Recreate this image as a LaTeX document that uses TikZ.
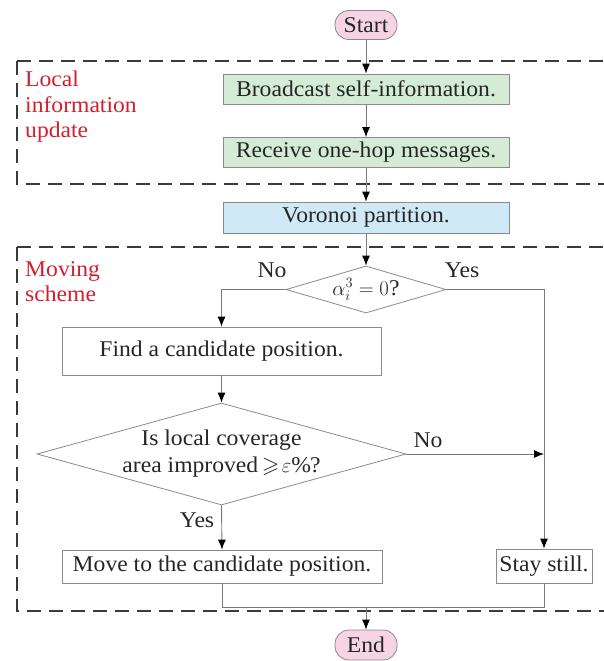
\documentclass[tikz,border=0pt]{standalone}
\usepackage{amssymb}
\usepackage{fontspec}
\setmainfont[FakeStretch=1.05]{Liberation Serif}
\usetikzlibrary{shapes.geometric,arrows.meta}
\definecolor{pinkfill}{HTML}{F6D4E4}
\definecolor{greenfill}{HTML}{D4EBD6}
\definecolor{bluefill}{HTML}{CFE9F7}
\definecolor{edgegray}{HTML}{8A8A8A}
\definecolor{linegray}{HTML}{7A7A7A}
\definecolor{labelred}{HTML}{D0202E}
\definecolor{dashgray}{HTML}{3A3A3A}
\tikzset{
  txt/.style={font=\fontsize{22.5}{27}\selectfont, text=black!85},
  terminal/.style={txt, draw=edgegray, fill=pinkfill, rounded corners=14pt, minimum width=62pt, minimum height=29pt, inner sep=0pt, line width=0.8pt},
  procbox/.style={txt, draw=edgegray, minimum height=32pt, inner sep=0pt, line width=0.8pt},
  greenbox/.style={procbox, fill=greenfill, minimum width=286pt, minimum height=30pt},
  bluebox/.style={procbox, fill=bluefill, minimum width=286pt, minimum height=31pt},
  decision/.style={txt, draw=edgegray, diamond, inner sep=-8pt, line width=0.8pt, align=center},
  conn/.style={draw=linegray, line width=0.9pt},
  arr/.style={conn, -{Latex[length=10pt,width=8pt,color=black]}},
  region/.style={draw=dashgray, line width=1.3pt, dash pattern=on 14pt off 8pt},
  regionlabel/.style={font=\fontsize{22.5}{25.5}\selectfont, text=labelred, align=left, anchor=north west, inner sep=0pt},
  branch/.style={txt, inner sep=0pt},
}
\begin{document}
\begin{tikzpicture}[x=1pt,y=-1pt]
\useasboundingbox (0,0) rectangle (603,661);
% regions
\draw[region] (17,61) -- (610,61);
\draw[region] (17,61) -- (17,184) -- (610,184);
\draw[region] (17,247) -- (610,247);
\draw[region] (17,247) -- (17,611) -- (610,611);
\node[regionlabel] (lbl1) at (25,71) {Local\\information\\update};
\node[regionlabel] (lbl2) at (25,261) {Moving\\scheme};
% nodes
\node[terminal] (start) at (366,25) {Start};
\node[greenbox] (b1) at (366,89) {Broadcast self-information.};
\node[greenbox] (b2) at (366,152.5) {Receive one-hop messages.};
\node[bluebox] (vor) at (366,217.5) {Voronoi partition.};
\node[decision, minimum width=160pt, minimum height=47pt, aspect=3.4] (d1) at (366,289.5) {$\alpha_i^3=0$?};
\node[procbox, minimum width=319pt, minimum height=48pt] (find) at (221.5,351) {Find a candidate position.};
\node[decision, minimum width=369pt, minimum height=102pt, aspect=3.6] (d2) at (221.5,454) {Is local coverage\\area improved\,$\geqslant\!\varepsilon\%$?};
\node[procbox, minimum width=320pt, minimum height=33pt] (move) at (222,566.5) {Move to the candidate position.};
\node[procbox, minimum width=96pt, minimum height=34pt] (stay) at (544,566) {Stay still.};
\node[terminal, minimum height=30pt] (end) at (366,645) {End};
\coordinate (join) at (366,607);
% branch labels
\node[branch] (no1) at (272,270) {No};
\node[branch] (yes1) at (462,270) {Yes};
\node[branch] (no2) at (428,440) {No};
\node[branch] (yes2) at (197,520) {Yes};
% connectors
\draw[arr] (start) -- (b1);
\draw[arr] (b1) -- (b2);
\draw[arr] (b2) -- (vor);
\draw[arr] (vor) -- (d1);
\draw[arr] (d1.west) -| (find.north);
\draw[arr] (d1.east) -| (stay.north);
\draw[arr] (find) -- (d2);
\draw[arr] (d2.east) -- (d2.east -| stay.north);
\draw[arr] (d2.south) -- (move.north);
\draw[conn] (move.south) |- (join);
\draw[conn] (stay.south) |- (join);
\draw[arr] (join) -- (end.north);
\end{tikzpicture}
\end{document}
